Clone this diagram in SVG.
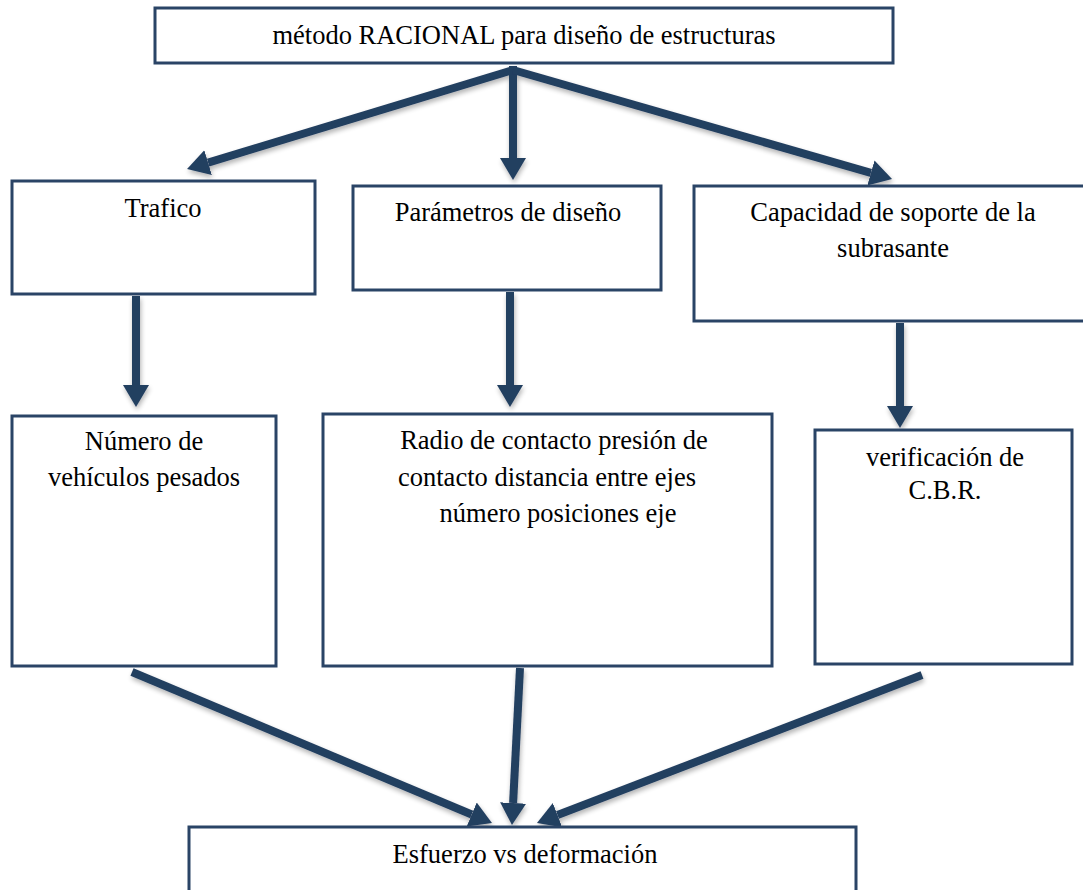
<svg xmlns="http://www.w3.org/2000/svg" width="1083" height="890" viewBox="0 0 1083 890">
  <style>
    .box { fill: #ffffff; stroke: #2a4466; stroke-width: 3; }
    .lbl { font-family: "Liberation Serif", "Times New Roman", serif; font-size: 26.5px; fill: #000000; text-anchor: middle; }
    .arr { stroke: #243f60; stroke-width: 8; fill: none; marker-end: url(#head); }
  </style>
  <defs>
    <marker id="head" markerUnits="userSpaceOnUse" markerWidth="24" markerHeight="28" viewBox="0 -14 24 28" refX="0" refY="0" orient="auto">
      <path d="M0,-13 L22,0 L0,13 z" fill="#243f60"/>
    </marker>
    <filter id="shadow" x="-10%" y="-10%" width="120%" height="120%">
      <feGaussianBlur in="SourceAlpha" stdDeviation="2.5"/>
      <feOffset dx="1" dy="3" result="b"/>
      <feComponentTransfer><feFuncA type="linear" slope="0.3"/></feComponentTransfer>
      <feMerge><feMergeNode/><feMergeNode in="SourceGraphic"/></feMerge>
    </filter>
  </defs>

  <rect width="1083" height="890" fill="#ffffff"/>

  <!-- connectors -->
  <g id="connectors" filter="url(#shadow)">
    <line class="arr" x1="513" y1="70" x2="208.1" y2="162.6"/>
    <line class="arr" x1="513" y1="66" x2="513" y2="158"/>
    <line class="arr" x1="513" y1="70" x2="870.9" y2="172.9"/>
    <line class="arr" x1="136" y1="296" x2="136" y2="385"/>
    <line class="arr" x1="510" y1="292" x2="510" y2="385"/>
    <line class="arr" x1="900" y1="323" x2="900" y2="406"/>
    <line class="arr" x1="132" y1="672" x2="471.7" y2="814.5"/>
    <line class="arr" x1="520" y1="668" x2="513.1" y2="803" stroke-width="6"/>
    <line class="arr" x1="922" y1="675" x2="557.5" y2="815.1"/>
  </g>

  <!-- nodes -->
  <g id="metodo">
    <rect class="box" x="155" y="8" width="738" height="55"/>
    <text class="lbl" x="524" y="44">método RACIONAL para diseño de estructuras</text>
  </g>
  <g id="trafico">
    <rect class="box" x="12" y="181" width="303" height="113"/>
    <text class="lbl" x="163" y="217">Trafico</text>
  </g>
  <g id="parametros">
    <rect class="box" x="353" y="186" width="308" height="104"/>
    <text class="lbl" x="508" y="221">Parámetros de diseño</text>
  </g>
  <g id="capacidad">
    <rect class="box" x="694" y="186" width="395" height="135"/>
    <text class="lbl" x="893" y="221">Capacidad de soporte de la</text>
    <text class="lbl" x="893" y="257">subrasante</text>
  </g>
  <g id="numero">
    <rect class="box" x="12" y="416" width="264" height="250"/>
    <text class="lbl" x="144" y="450">Número de</text>
    <text class="lbl" x="144" y="486">vehículos pesados</text>
  </g>
  <g id="radio">
    <rect class="box" x="323" y="414" width="449" height="252"/>
    <text class="lbl" x="554" y="449">Radio de contacto presión de</text>
    <text class="lbl" x="547" y="486">contacto distancia entre ejes</text>
    <text class="lbl" x="558" y="522">número posiciones eje</text>
  </g>
  <g id="verificacion">
    <rect class="box" x="815" y="430" width="257" height="234"/>
    <text class="lbl" x="945" y="466">verificación de</text>
    <text class="lbl" x="945" y="499">C.B.R.</text>
  </g>
  <g id="esfuerzo">
    <rect class="box" x="189" y="827" width="667" height="70"/>
    <text class="lbl" x="525" y="863">Esfuerzo vs deformación</text>
  </g>
</svg>
